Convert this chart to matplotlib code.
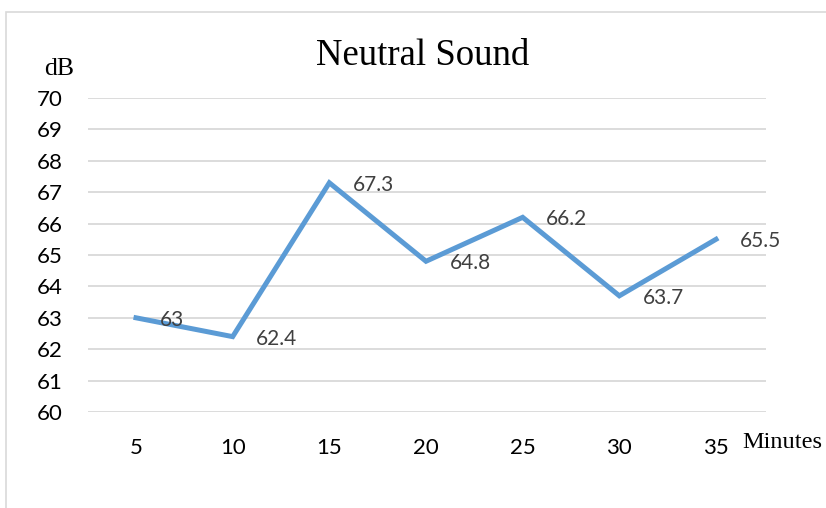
import matplotlib
matplotlib.use("Agg")
import matplotlib.pyplot as plt
from matplotlib.patches import Rectangle

minutes = [5, 10, 15, 20, 25, 30, 35]
db_values = [63, 62.4, 67.3, 64.8, 66.2, 63.7, 65.5]
y_ticks = [60, 61, 62, 63, 64, 65, 66, 67, 68, 69, 70]

W, H = 826, 508
fig = plt.figure(figsize=(W / 100, H / 100), dpi=100)
fig.patch.set_facecolor("white")

# chart area border
fig.patches.append(Rectangle((6 / W, -0.05), 1.0, 1 - 12 / H + 0.05,
                             transform=fig.transFigure, fill=False,
                             edgecolor="#D9D9D9", linewidth=1.2))

left, right = 88, 766
top, bottom = 98, 412
ax = fig.add_axes([left / W, 1 - bottom / H, (right - left) / W, (bottom - top) / H])

px_per_unit = (716 - 136) / 30
ax.set_xlim(5 - (136 - left) / px_per_unit, 35 + (right - 716) / px_per_unit)
ax.set_ylim(60, 70)

ax.plot(minutes, db_values, color="#5B9BD5", linewidth=3.6, solid_joinstyle="miter", zorder=3)

sans = ["Lato", "DejaVu Sans"]
for x, y in zip(minutes, db_values):
    lbl = f"{y:g}"
    ax.annotate(lbl, (x, y), xytext=(17, -1.5), textcoords="offset points",
                ha="left", va="center", fontsize=15, color="#404040",
                family=sans, zorder=4)

ax.set_yticks(y_ticks)
ax.set_xticks(minutes)
ax.set_xticklabels([str(m) for m in minutes])
ax.yaxis.grid(True, color="#D9D9D9", linewidth=1.3)
ax.xaxis.grid(False)
ax.set_axisbelow(True)
for s in ax.spines.values():
    s.set_visible(False)
ax.tick_params(axis="both", length=0, labelsize=16)
ax.tick_params(axis="x", pad=19)
ax.tick_params(axis="y", pad=18)
for t in ax.get_xticklabels() + ax.get_yticklabels():
    t.set_family(sans)
    t.set_color("#000000")

fig.text(423 / W, 1 - 56 / H, "Neutral Sound", ha="center", va="center",
         fontsize=26.5, family="Liberation Serif", color="black")
fig.text(59 / W, 1 - 69 / H, "dB", ha="center", va="center",
         fontsize=18.5, family="Liberation Serif", color="black")
fig.text(742 / W, 1 - 442 / H, "Minutes", ha="left", va="center",
         fontsize=17.5, family="Liberation Serif", color="black")

fig.savefig("out.png", dpi=100, facecolor="white")
